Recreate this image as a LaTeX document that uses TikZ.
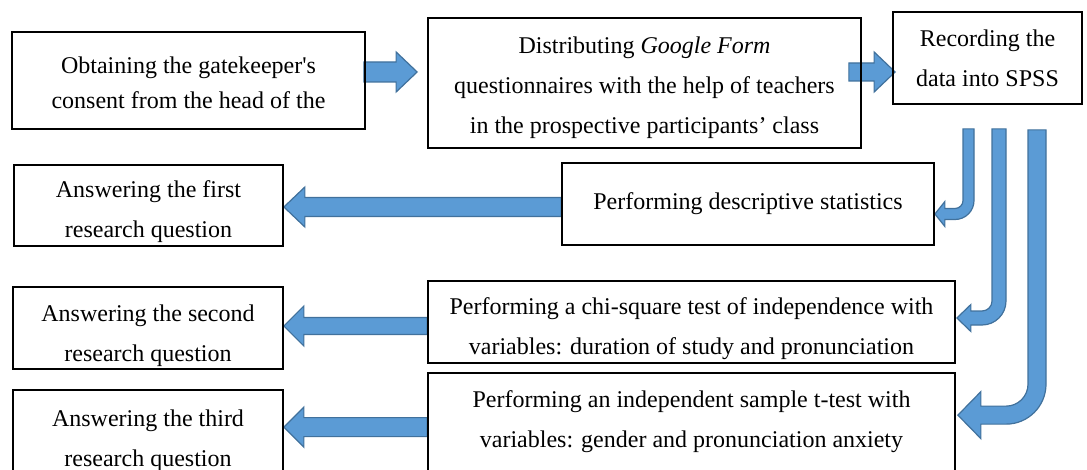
\documentclass[tikz,border=0pt]{standalone}
\usepackage{fontspec}
\setmainfont{Liberation Serif}
\usetikzlibrary{calc}
\definecolor{arrowfill}{RGB}{91,155,213}
\definecolor{arrowline}{RGB}{65,113,156}
\pgfdeclarelayer{bg}
\pgfsetlayers{bg,main}
\tikzset{
  box/.style={draw=black, line width=1.3pt, inner sep=0pt},
  txt/.style={inner sep=0pt, align=center, font=\fontsize{18}{30}\selectfont},
  blockarrow/.style={fill=arrowfill, draw=arrowline, line width=0.9pt, line join=miter},
}
% box from (x1,y1) to (x2,y2) in pixel units, text shifted by dy from the centre
\newcommand\boxat[8][]{%
  \node[box, minimum width={(#5-#3)*0.75pt}, minimum height={(#6-#4)*0.75pt}] (#2) at ({(#3+#5)/2},{(#4+#6)/2}) {};
  \node[txt,#1] (#2t) at ($(#2.center)+(0,#7)$) {#8};}
% straight block arrow: start, tip, half shaft, half head, head length (signed)
\newcommand\blkarrow[5]{\draw[blockarrow] ($(#1)+(0,-#3)$) -- ($(#2)+(#5,-#3)$) -- ($(#2)+(#5,-#4)$) -- (#2) -- ($(#2)+(#5,#4)$) -- ($(#2)+(#5,#3)$) -- ($(#1)+(0,#3)$) -- cycle;}
% bent block arrow: start (top centre), tip, half shaft a, inner radius, half head, head length
\newcommand\bentblk[6]{%
  \coordinate (bc) at (#1 |- #2);
  \draw[blockarrow] ($(#1)+(-#3,0)$) -- ($(bc)+(-#3,{-#3-#4})$)
    .. controls ($(bc)+(-#3,{-#3-#4+0.5523*#4})$) and ($(bc)+({-#3-#4+0.5523*#4},-#3)$) .. ($(bc)+({-#3-#4},-#3)$)
    -- ($(#2)+(#6,-#3)$) -- ($(#2)+(#6,-#5)$) -- (#2) -- ($(#2)+(#6,#5)$) -- ($(#2)+(#6,#3)$)
    -- ($(bc)+({-#3-#4},#3)$)
    .. controls ($(bc)+({-#3-#4+0.5523*(#4+2*#3)},#3)$) and ($(bc)+(#3,{-#3-#4+0.5523*(#4+2*#3)})$) .. ($(bc)+(#3,{-#3-#4})$)
    -- ($(#1)+(#3,0)$) -- cycle;}
\begin{document}
\begin{tikzpicture}[x=0.75pt,y=-0.75pt]
\useasboundingbox (0,0) rectangle (1087,470);
\clip (0,0) rectangle (1087,470);

\boxat[font=\fontsize{18}{26.5}\selectfont]{A}{12}{32}{365}{129}{2.5}{Obtaining the gatekeeper\textquotesingle s\\consent from the head of the}
\boxat{B}{428}{18}{861}{148}{5}{Distributing \textit{Google Form}\\questionnaires with the help of teachers\\in the prospective participants’ class}
\boxat{C}{893}{12}{1082}{104}{0}{Recording the\\data into SPSS}
\boxat{D}{14}{165}{283}{246}{6}{Answering the first\\research question}
\boxat{E}{562}{163}{934}{245}{-0.5}{Performing descriptive statistics}
\boxat{F}{13}{287}{283}{369}{8}{Answering the second\\research question}
\boxat{G}{428}{281}{955}{363}{6.5}{Performing a chi-square test of independence with\\variables: duration of study and pronunciation}
\boxat{H}{13}{390}{283}{482}{4.5}{Answering the third\\research question}
\boxat{I}{428}{373}{955}{500}{-15}{Performing an independent sample t-test with\\variables: gender and pronunciation anxiety}

\begin{pgfonlayer}{bg}
\coordinate (s1) at ($(A.east)+(-2,-8.5)$);
\coordinate (t1) at ($(B.west |- s1)+(-10,0)$);
\blkarrow{s1}{t1}{10}{20}{-21}

\coordinate (s2) at ($(B.east)+(-13,-11)$);
\coordinate (t2) at ($(C.west |- s2)+(3,0)$);
\blkarrow{s2}{t2}{9}{20}{-21}

\coordinate (s3) at ($(E.west)+(0,3)$);
\coordinate (t3) at (D.east |- s3);
\blkarrow{s3}{t3}{9.5}{20}{21}

\coordinate (s4) at ($(G.west)+(0,4)$);
\coordinate (t4) at (F.east |- s4);
\blkarrow{s4}{t4}{8.5}{20}{20}

\coordinate (s5) at ($(I.north west)+(0,55)$);
\coordinate (t5) at (H.east |- s5);
\blkarrow{s5}{t5}{9.5}{20}{20}

\coordinate (s6) at ($(C.south)+(-19,24)$);
\coordinate (t6) at ($(E.east)+(0,10)$);
\bentblk{s6}{t6}{5.5}{8}{12.5}{10}

\coordinate (s7) at ($(C.south)+(11.5,24)$);
\coordinate (t7) at ($(G.east)+(1,-4)$);
\bentblk{s7}{t7}{7}{10}{13.5}{14}

\coordinate (s8) at ($(C.south)+(49.5,25)$);
\coordinate (t8) at ($(I.north east)+(2,43)$);
\bentblk{s8}{t8}{9}{22}{23.5}{23}
\end{pgfonlayer}
\end{tikzpicture}
\end{document}
